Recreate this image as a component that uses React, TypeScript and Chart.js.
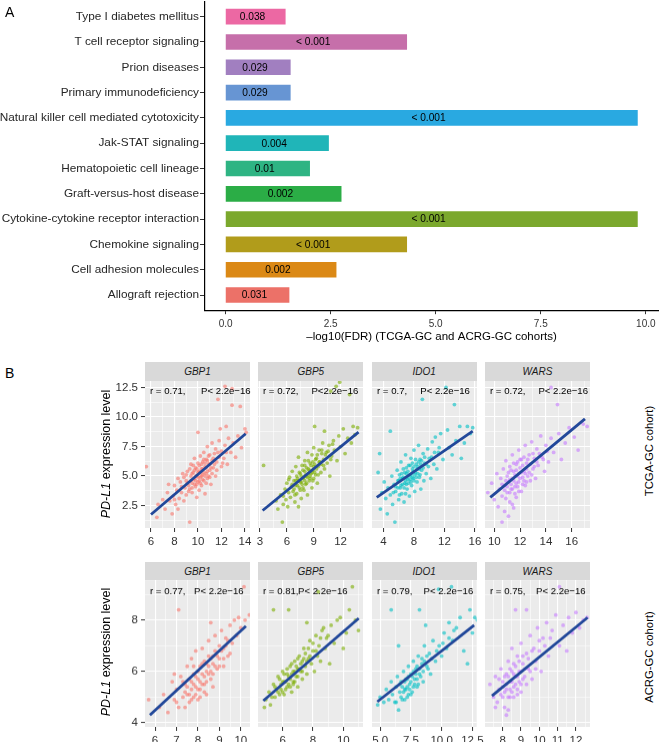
import React, { useEffect, useRef } from "react";
import { Chart, registerables } from "chart.js";

Chart.register(...registerables);

const FONT = "'Liberation Sans', Arial, Helvetica, sans-serif";
Chart.defaults.font.family = FONT;

// ---------------- Panel A data ----------------
const pathways = [
  "Type I diabetes mellitus",
  "T cell receptor signaling",
  "Prion diseases",
  "Primary immunodeficiency",
  "Natural killer cell mediated cytotoxicity",
  "Jak-STAT signaling",
  "Hematopoietic cell lineage",
  "Graft-versus-host disease",
  "Cytokine-cytokine receptor interaction",
  "Chemokine signaling",
  "Cell adhesion molecules",
  "Allograft rejection",
];
const negLogFdr = [1.42, 4.31, 1.54, 1.54, 9.8, 2.45, 2.0, 2.75, 9.8, 4.31, 2.63, 1.51];
const fdrLabels = ["0.038", "< 0.001", "0.029", "0.029", "< 0.001", "0.004", "0.01", "0.002", "< 0.001", "< 0.001", "0.002", "0.031"];
const barColors = ["#EC68A3", "#C66FAA", "#A17FC0", "#6795D3", "#29A9E1", "#20B5B8", "#2EB483", "#2BAD46", "#7BA82D", "#B19C1B", "#DB8916", "#EC7168"];
const xTicksA = [0, 2.5, 5, 7.5, 10];

// ---------------- Panel B data ----------------
const genes = ["GBP1", "GBP5", "IDO1", "WARS"];
const tcgaR = ["0.71", "0.72", "0.7", "0.72"];
const acrgR = ["0.77", "0.81", "0.79", "0.75"];
const pValueText = "2.2e\u221216";
const tcgaYTicks = [2.5, 5, 7.5, 10, 12.5];
const acrgYTicks = [4, 6, 8];
const tcgaXTicks = [[6, 8, 10, 12, 14], [3, 6, 9, 12], [4, 8, 12, 16], [10, 12, 14, 16]];
const acrgXTicks = [[6, 7, 8, 9, 10], [6, 8, 10], [5, 7.5, 10, 12.5], [8, 9, 10, 11, 12]];
const tcgaXRange = [[5.49, 14.43], [2.78, 14.5], [2.5, 16.26], [9.28, 17.42]];
const acrgXRange = [[5.53, 10.43], [4.38, 11.3], [4.34, 12.85], [7.03, 12.77]];
const tcgaYRange = [0.6, 13.05];
const acrgYRange = [3.84, 9.56];
const tcgaFit = [[[6.0, 1.74], [14.06, 8.58]], [[3.3, 2.08], [14.0, 8.72]], [[3.12, 3.2], [15.7, 8.8]], [[9.69, 3.2], [17.03, 9.84]]];
const acrgFit = [[[5.76, 4.3], [10.24, 7.77]], [[4.73, 4.86], [11.02, 8.07]], [[4.77, 4.82], [12.64, 7.8]], [[7.41, 5.05], [12.64, 8.1]]];

const tcgaGBP1 = [[5.6,5.8],[6.5,1.5],[6.6,2.6],[7.0,3.0],[7.2,2.2],[7.4,3.6],[7.6,2.9],[7.8,1.8],[7.9,3.3],[8.0,4.2],[8.1,2.6],[8.2,3.8],[8.3,4.8],[8.4,3.1],[8.5,4.5],[8.6,3.6],[8.7,5.2],[8.8,2.9],[8.9,4.0],[9.0,4.6],[9.0,3.4],[9.1,5.4],[9.2,4.2],[9.3,1.1],[9.3,3.9],[9.4,5.0],[9.4,6.0],[9.5,4.4],[9.5,3.6],[9.6,5.3],[9.7,4.8],[9.7,6.5],[9.8,4.1],[9.8,5.7],[9.9,3.2],[9.9,5.0],[10.0,8.7],[10.0,4.5],[10.0,6.1],[10.1,5.4],[10.1,3.8],[10.2,4.9],[10.2,6.7],[10.3,5.6],[10.3,4.2],[10.4,6.2],[10.4,5.1],[10.5,7.0],[10.5,4.6],[10.6,5.8],[10.6,3.5],[10.7,6.4],[10.7,5.2],[10.8,7.5],[10.8,4.8],[10.9,6.0],[11.0,5.5],[11.0,6.8],[11.1,4.3],[11.2,6.3],[11.2,7.8],[11.3,5.7],[11.4,6.9],[11.5,5.0],[11.5,7.3],[11.6,6.2],[11.7,11.5],[11.8,6.6],[11.8,8.0],[11.9,9.0],[12.0,5.8],[12.0,7.1],[12.2,6.5],[12.3,12.6],[12.3,7.6],[12.4,9.2],[12.5,6.0],[12.6,8.2],[12.8,7.0],[12.9,11.0],[12.9,12.4],[13.0,7.8],[13.2,6.6],[13.4,8.4],[13.6,10.9],[13.7,7.4],[14.0,9.0],[14.1,8.7],
  [8.6,4.1],[8.8,4.9],[9.0,5.1],[9.1,4.4],[9.2,3.7],[9.3,5.6],[9.4,4.6],[9.5,5.2],[9.5,4.0],[9.6,4.7],[9.6,5.9],[9.7,4.3],[9.7,5.5],[9.8,5.0],[9.8,4.6],[9.9,5.6],[9.9,4.3],[10.0,5.3],[10.0,4.9],[10.1,5.9],[10.1,4.6],[10.2,5.3],[10.2,4.4],[10.3,6.0],[10.3,5.0],[10.4,5.6],[10.4,4.7],[10.5,5.3],[10.5,6.4],[10.6,5.0],[10.6,6.1],[10.7,5.7],[10.7,4.4],[10.8,6.3],[10.8,5.4],[10.9,5.0],[10.9,6.7],[11.0,6.0],[11.0,4.9],[11.1,5.7],[11.2,5.2],[11.3,6.5],[11.4,6.0],[11.6,5.5],[11.7,7.0],[12.1,6.1],[12.4,7.0],[7.5,4.3],[8.0,3.0],[8.3,2.2]];
const tcgaGBP5 = [[3.4,5.9],[4.8,2.9],[5.0,2.2],[5.3,3.4],[5.5,1.1],[5.6,2.6],[5.8,3.9],[5.9,3.0],[6.0,4.4],[6.1,2.4],[6.2,3.6],[6.3,4.9],[6.4,3.2],[6.5,4.1],[6.6,5.4],[6.7,3.7],[6.8,4.6],[6.9,2.8],[7.0,4.2],[7.0,5.8],[7.1,3.5],[7.2,4.8],[7.3,6.6],[7.4,4.0],[7.5,5.2],[7.6,3.1],[7.6,4.5],[7.7,5.9],[7.8,4.8],[7.9,3.8],[8.0,5.4],[8.0,6.3],[8.1,4.3],[8.2,5.0],[8.3,7.0],[8.3,3.4],[8.4,5.6],[8.5,4.6],[8.6,6.1],[8.7,5.2],[8.8,4.0],[8.8,6.8],[8.9,5.5],[9.0,4.8],[9.0,7.4],[9.1,9.2],[9.1,6.0],[9.2,5.1],[9.3,6.5],[9.4,4.4],[9.5,5.8],[9.6,7.2],[9.7,6.2],[9.8,5.3],[9.9,6.9],[10.0,7.8],[10.1,6.4],[10.2,8.8],[10.2,5.6],[10.4,7.0],[10.5,6.1],[10.7,7.6],[10.8,5.0],[10.9,12.2],[11.0,6.7],[11.2,8.0],[11.3,7.2],[11.5,12.6],[11.6,6.3],[11.8,8.4],[11.9,12.95],[12.0,7.5],[12.3,9.0],[12.5,6.9],[12.8,8.2],[13.0,11.9],[13.2,7.8],[13.4,9.2],[13.6,8.5],[13.9,9.1],
  [6.6,4.3],[6.8,3.9],[7.0,4.6],[7.1,5.0],[7.2,4.2],[7.3,4.6],[7.4,5.3],[7.5,4.5],[7.5,3.8],[7.6,5.0],[7.7,4.3],[7.8,5.5],[7.8,4.0],[7.9,4.9],[8.0,4.6],[8.0,5.9],[8.1,5.1],[8.2,4.4],[8.2,5.7],[8.3,4.9],[8.4,5.2],[8.4,6.3],[8.5,5.5],[8.6,4.8],[8.6,5.0],[8.7,5.9],[8.8,5.3],[8.9,6.2],[8.9,4.6],[9.0,5.8],[9.1,5.3],[9.2,6.4],[9.3,5.6],[9.4,6.8],[9.5,5.1],[9.6,6.2],[9.8,6.0],[9.9,7.2],[10.1,5.9],[10.3,6.8],[10.6,7.1],[10.9,6.4],[11.1,7.7],[6.2,4.7],[5.6,3.3],[6.9,3.4],[7.3,2.4]];
const tcgaIDO1 = [[3.3,5.3],[3.5,6.9],[3.6,2.2],[3.8,3.6],[4.1,4.5],[4.3,3.1],[4.5,1.8],[4.6,4.0],[4.9,8.8],[4.9,3.4],[5.1,5.0],[5.2,2.6],[5.4,4.3],[5.5,1.1],[5.6,3.7],[5.8,5.5],[5.9,4.6],[6.0,3.0],[6.1,5.1],[6.2,4.0],[6.3,6.2],[6.4,3.5],[6.5,4.8],[6.6,5.6],[6.7,2.8],[6.8,4.4],[6.9,6.8],[7.0,5.2],[7.1,3.9],[7.2,4.7],[7.3,5.9],[7.4,3.3],[7.5,5.0],[7.6,6.5],[7.7,4.2],[7.8,5.6],[7.9,4.8],[8.0,7.2],[8.1,3.7],[8.2,5.3],[8.3,6.0],[8.4,4.5],[8.5,5.8],[8.6,7.6],[8.7,4.9],[8.8,6.4],[8.9,3.9],[9.0,5.5],[9.1,11.5],[9.2,6.9],[9.3,4.6],[9.4,6.1],[9.6,5.2],[9.8,7.3],[10.0,6.5],[10.2,4.8],[10.4,7.9],[10.6,6.0],[10.8,8.3],[11.0,5.6],[11.2,7.0],[11.5,8.6],[11.8,6.4],[12.2,12.5],[12.4,8.9],[12.6,7.4],[13.0,6.8],[13.3,11.05],[13.5,8.0],[14.0,9.2],[14.2,6.5],[14.6,7.8],[15.0,9.2],[15.4,8.6],[15.7,9.1],
  [5.6,4.1],[5.9,4.0],[6.0,4.6],[6.2,4.8],[6.3,4.2],[6.4,5.2],[6.5,4.3],[6.6,4.9],[6.7,4.0],[6.8,5.3],[6.9,4.6],[7.0,4.3],[7.0,5.7],[7.1,4.9],[7.2,5.4],[7.3,4.4],[7.4,5.1],[7.5,4.7],[7.5,5.9],[7.6,4.5],[7.7,5.2],[7.8,4.9],[7.8,6.1],[7.9,5.4],[8.0,4.6],[8.0,5.8],[8.1,5.1],[8.2,6.4],[8.3,4.9],[8.4,5.6],[8.5,5.2],[8.6,6.2],[8.7,5.6],[8.8,5.1],[8.9,6.0],[9.0,6.3],[9.2,5.7],[9.4,6.6],[9.6,6.0],[9.9,5.8],[10.3,6.6],[10.7,7.0],[11.3,7.4],[6.1,3.4],[5.3,3.6],[6.9,3.5]];
const tcgaWARS = [[9.5,3.6],[9.8,4.4],[10.0,3.0],[10.2,5.2],[10.3,2.4],[10.4,3.9],[10.5,4.8],[10.6,1.1],[10.6,3.3],[10.7,5.6],[10.8,2.0],[10.8,4.2],[10.9,6.3],[11.0,3.6],[11.0,5.0],[11.1,4.5],[11.2,2.8],[11.2,5.8],[11.3,3.9],[11.4,6.8],[11.4,4.8],[11.5,2.3],[11.5,5.4],[11.6,4.1],[11.7,6.0],[11.7,3.2],[11.8,5.0],[11.9,7.2],[11.9,4.5],[12.0,5.7],[12.1,3.7],[12.1,6.4],[12.2,4.9],[12.3,5.4],[12.4,7.6],[12.4,4.2],[12.5,6.1],[12.6,5.0],[12.7,6.8],[12.8,4.6],[12.9,7.9],[13.0,5.6],[13.1,6.5],[13.2,4.8],[13.3,7.3],[13.4,5.9],[13.6,8.4],[13.7,6.6],[13.9,5.4],[14.0,7.6],[14.2,6.2],[14.4,12.5],[14.4,8.2],[14.6,7.0],[14.9,11.05],[15.0,8.6],[15.2,6.4],[15.5,7.8],[15.8,9.1],[16.2,8.3],[16.5,7.2],[16.9,9.4],[17.2,9.2],
  [10.6,4.3],[10.8,3.8],[10.9,4.6],[11.0,4.1],[11.1,5.3],[11.2,3.6],[11.2,4.7],[11.3,4.3],[11.3,5.5],[11.4,3.9],[11.5,4.6],[11.5,6.1],[11.6,5.1],[11.6,3.5],[11.7,4.4],[11.7,5.5],[11.8,4.1],[11.8,6.2],[11.9,5.2],[11.9,3.7],[12.0,4.8],[12.0,6.4],[12.1,5.3],[12.2,4.3],[12.2,5.9],[12.3,4.6],[12.3,6.6],[12.4,5.2],[12.5,5.6],[12.5,4.5],[12.6,6.4],[12.7,5.3],[12.8,6.0],[12.9,5.1],[13.0,6.9],[13.1,5.8],[13.3,6.2],[13.5,6.9],[13.8,6.4],[14.1,7.1],[10.9,3.1],[11.4,2.6],[11.1,1.6]];

const acrgGBP1 = [[5.7,4.9],[6.2,4.6],[6.4,5.1],[6.6,4.4],[6.8,5.6],[6.9,4.9],[7.0,5.3],[7.1,8.4],[7.1,4.6],[7.2,5.8],[7.3,5.0],[7.4,4.6],[7.4,5.5],[7.5,6.2],[7.5,5.1],[7.6,4.8],[7.6,5.7],[7.7,5.3],[7.7,6.5],[7.8,5.0],[7.8,5.9],[7.9,5.4],[7.9,6.8],[8.0,5.7],[8.0,4.9],[8.1,6.2],[8.1,5.3],[8.2,5.9],[8.2,6.9],[8.3,5.5],[8.3,6.4],[8.4,5.1],[8.4,6.0],[8.5,6.6],[8.5,7.2],[8.6,5.7],[8.6,7.9],[8.7,6.3],[8.7,5.4],[8.8,6.8],[8.8,7.4],[8.9,6.1],[9.0,7.0],[9.0,6.5],[9.1,7.6],[9.2,6.2],[9.2,6.9],[9.3,7.3],[9.4,6.6],[9.5,7.8],[9.6,7.1],[9.7,8.0],[9.8,7.4],[9.9,8.1],[10.0,7.7],[10.15,9.3],[10.2,8.0],[10.4,8.2],
  [7.3,5.6],[7.4,5.2],[7.5,5.4],[7.6,5.1],[7.7,5.6],[7.7,4.9],[7.8,5.5],[7.8,6.2],[7.9,5.1],[7.9,5.8],[8.0,5.3],[8.0,6.0],[8.1,5.6],[8.1,5.0],[8.2,5.5],[8.2,6.3],[8.3,5.8],[8.3,5.2],[8.4,6.3],[8.4,5.6],[8.5,5.9],[8.5,6.2],[8.6,6.0],[8.6,6.5],[8.7,6.6],[8.7,5.9],[8.8,6.2],[8.9,6.6],[9.0,6.2],[9.1,6.8],[9.2,6.5],[9.3,7.0],[9.4,7.2],[9.5,6.7],[7.0,4.8],[6.9,5.9]];
const acrgGBP5 = [[4.8,4.6],[4.9,4.9],[5.1,5.2],[5.2,4.7],[5.4,8.4],[5.4,5.5],[5.5,5.0],[5.6,5.3],[5.7,5.8],[5.8,5.1],[5.9,5.5],[6.0,5.2],[6.0,6.0],[6.1,5.6],[6.2,5.3],[6.3,5.9],[6.4,8.4],[6.4,5.5],[6.5,6.2],[6.5,5.7],[6.6,5.2],[6.7,6.0],[6.7,5.6],[6.8,6.4],[6.9,5.8],[7.0,6.1],[7.0,5.4],[7.1,6.6],[7.2,6.0],[7.3,5.7],[7.3,6.4],[7.4,6.9],[7.5,6.2],[7.6,7.9],[7.6,5.9],[7.7,6.5],[7.8,7.2],[7.9,6.3],[8.0,6.8],[8.1,6.0],[8.2,7.4],[8.3,6.6],[8.35,9.1],[8.4,7.0],[8.5,6.4],[8.6,7.6],[8.8,6.9],[8.9,7.3],[9.1,6.3],[9.2,7.8],[9.4,7.1],[9.6,8.0],[9.8,8.1],[10.0,6.9],[10.2,7.5],[10.4,8.4],[10.6,9.3],[10.8,8.0],[11.0,7.6],
  [5.5,5.4],[5.7,5.2],[5.8,5.7],[5.9,5.3],[6.0,5.6],[6.1,5.1],[6.1,5.9],[6.2,5.6],[6.3,5.4],[6.3,6.1],[6.4,5.8],[6.5,5.4],[6.6,5.9],[6.6,6.3],[6.7,5.5],[6.8,6.0],[6.8,5.6],[6.9,6.2],[7.0,5.8],[7.0,6.5],[7.1,6.1],[7.2,6.3],[7.3,6.0],[7.4,6.5],[7.5,6.7],[7.6,6.4],[7.7,6.9],[7.8,6.6],[8.0,7.1],[8.2,6.8],[8.5,7.3],[8.7,7.7],[9.0,7.4],[5.3,5.0]];
const acrgIDO1 = [[4.8,4.7],[5.0,5.0],[5.3,4.8],[5.5,5.3],[5.7,4.9],[5.9,8.4],[5.9,5.6],[6.0,5.1],[6.2,4.8],[6.3,5.4],[6.4,5.8],[6.5,4.5],[6.5,7.0],[6.6,5.2],[6.7,5.6],[6.8,4.9],[6.9,6.0],[7.0,5.3],[7.1,5.7],[7.2,5.0],[7.3,6.2],[7.4,5.5],[7.5,5.9],[7.6,5.2],[7.7,6.4],[7.8,5.7],[7.9,6.1],[8.0,5.4],[8.1,6.6],[8.2,8.4],[8.2,5.9],[8.4,6.3],[8.5,5.6],[8.6,7.0],[8.7,7.8],[8.8,6.2],[9.0,6.7],[9.1,5.9],[9.3,7.2],[9.5,6.4],[9.75,9.2],[9.8,7.0],[10.0,6.6],[10.2,7.5],[10.4,6.9],[10.6,7.9],[10.8,9.3],[10.9,7.2],[11.2,7.7],[11.5,8.1],[11.8,6.8],[12.1,6.3],[12.3,8.4],[12.5,7.5],[12.7,8.1],[12.9,8.0],
  [6.6,5.5],[6.7,5.0],[6.8,5.4],[6.9,5.2],[7.0,5.6],[7.0,4.9],[7.1,5.3],[7.2,5.7],[7.2,5.4],[7.3,5.1],[7.3,5.8],[7.4,5.3],[7.5,5.6],[7.5,5.1],[7.6,5.8],[7.7,5.4],[7.7,6.0],[7.8,5.5],[7.9,5.9],[8.0,5.7],[8.0,6.2],[8.1,5.5],[8.2,6.1],[8.3,5.8],[8.4,6.5],[8.5,6.0],[8.6,6.4],[8.8,6.6],[8.9,6.1],[9.2,6.5],[9.6,6.8],[10.1,7.1],[10.6,7.3],[11.0,7.6],[6.3,4.8]];
const acrgWARS = [[7.3,5.5],[7.5,5.0],[7.6,5.8],[7.7,4.8],[7.8,5.3],[7.9,6.1],[8.0,5.0],[8.0,5.6],[8.1,4.6],[8.2,5.9],[8.2,5.3],[8.3,4.5],[8.3,6.4],[8.4,5.6],[8.4,5.0],[8.5,6.0],[8.5,6.9],[8.6,5.4],[8.6,6.3],[8.7,8.4],[8.7,5.8],[8.8,5.1],[8.8,6.6],[8.9,6.0],[9.0,5.5],[9.0,7.1],[9.1,6.3],[9.2,5.8],[9.3,8.4],[9.3,6.7],[9.4,6.1],[9.5,7.4],[9.6,5.7],[9.7,6.9],[9.8,6.4],[9.9,7.7],[10.0,6.8],[10.1,6.0],[10.2,7.3],[10.4,7.9],[10.5,6.6],[10.7,7.6],[10.9,8.2],[11.1,9.3],[11.1,7.0],[11.3,7.8],[11.5,6.8],[11.6,8.1],[11.8,7.5],[12.0,8.3],[12.2,7.7],[12.4,8.0],[12.6,8.1],
  [7.8,5.7],[7.9,5.1],[8.0,5.4],[8.1,5.8],[8.1,5.2],[8.2,5.5],[8.3,5.0],[8.3,5.8],[8.4,5.3],[8.4,6.1],[8.5,5.6],[8.5,5.2],[8.6,5.9],[8.6,5.0],[8.7,5.5],[8.7,6.2],[8.8,5.8],[8.8,5.3],[8.9,6.4],[8.9,5.6],[9.0,6.0],[9.0,5.2],[9.1,5.7],[9.1,6.6],[9.2,6.1],[9.3,5.5],[9.4,6.5],[9.5,6.0],[9.6,6.8],[9.8,6.1],[10.0,7.2],[10.3,7.0],[10.6,7.3],[7.6,4.6],[8.2,4.3]];

// ---------------- styling ----------------
const pointColors = ["rgba(248,118,109,0.6)", "rgba(124,174,0,0.6)", "rgba(0,191,196,0.6)", "rgba(199,124,255,0.6)"];
const fitColor = "#22489A";
const colLefts = [145, 258.3, 371.7, 485];
const panelW = 105;
const TOPPAD = 12;

const rows = [
  {
    top: 381, h: 147, stripTop: 362, yRange: tcgaYRange, yTicks: tcgaYTicks, xTicks: tcgaXTicks, xRange: tcgaXRange,
    fits: tcgaFit, r: tcgaR, data: [tcgaGBP1, tcgaGBP5, tcgaIDO1, tcgaWARS],
    pOff: [51, 48.4, 43.3, 48.4], pPrefix: ["P< ", "P<", "P< ", "P< "], annDy: 10.7,
  },
  {
    top: 580, h: 146.7, stripTop: 562, yRange: acrgYRange, yTicks: acrgYTicks, xTicks: acrgXTicks, xRange: acrgXRange,
    fits: acrgFit, r: acrgR, data: [acrgGBP1, acrgGBP5, acrgIDO1, acrgWARS],
    pOff: [44, 35, 46.6, 46], pPrefix: ["P< ", "P< ", "P< ", "P< "], annDy: 11.7,
  },
];

function withMinor(major: number[], min: number, max: number) {
  const step = major[1] - major[0];
  const out: any[] = [];
  for (let k = -1; ; k++) {
    const v = major[0] + (k * step) / 2;
    if (v > max + 1e-9) break;
    if (v < min) continue;
    const isMajor = major.some((m) => Math.abs(m - v) < 1e-6);
    out.push({ value: v, major: isMajor });
  }
  return out;
}

function fmt(v: number, list: number[]) {
  const dec = list.some((t) => Math.abs(t - Math.round(t)) > 1e-9);
  return dec ? v.toFixed(1) : String(v);
}

// ---------------- Panel A ----------------
const A_TOP = -12;
const A_H = 357;
function BarPanel() {
  const ref = useRef<HTMLCanvasElement>(null);
  useEffect(() => {
    const n = pathways.length;
    const labelPlugin = {
      id: "barLabels",
      afterDatasetsDraw(chart: any) {
        const ctx = chart.ctx;
        const xs = chart.scales.x;
        const ys = chart.scales.y;
        ctx.save();
        ctx.font = `10.2px ${FONT}`;
        ctx.fillStyle = "#000";
        ctx.textAlign = "center";
        ctx.textBaseline = "middle";
        pathways.forEach((_, i) => {
          ctx.fillText(fdrLabels[i], xs.getPixelForValue(negLogFdr[i] / 2 - 0.07), ys.getPixelForValue(n - i) + 0.5);
        });
        ctx.restore();
      },
    };
    const chart = new Chart(ref.current as any, {
      type: "bar",
      data: {
        datasets: [
          {
            data: pathways.map((_, i) => ({ x: negLogFdr[i], y: n - i })),
            backgroundColor: barColors,
            borderWidth: 0,
            barThickness: 15,
          } as any,
        ],
      },
      options: {
        responsive: false,
        animation: false,
        events: [],
        indexAxis: "y",
        layout: { autoPadding: false, padding: { top: 1.5 - A_TOP, right: 4, left: 0, bottom: 0 } } as any,
        plugins: { legend: { display: false }, tooltip: { enabled: false } },
        scales: {
          x: {
            type: "linear",
            min: -0.49,
            max: 10.29,
            afterBuildTicks: (s: any) => {
              s.ticks = xTicksA.map((v) => ({ value: v }));
            },
            ticks: {
              callback: (v: any) => Number(v).toFixed(1),
              font: { size: 10 },
              color: "#333",
              padding: 4,
              autoSkip: false,
              maxRotation: 0,
            },
            grid: { display: true, drawOnChartArea: false, tickLength: 4, tickColor: "#333", tickWidth: 1, offset: false },
            border: { display: true, color: "#000", width: 1.2 },
            title: {
              display: true,
              text: "\u2013log10(FDR) (TCGA-GC and ACRG-GC cohorts)",
              font: { size: 11.5 },
              color: "#000",
              padding: { top: 0, bottom: 1.5 },
            },
            afterFit: (s: any) => {
              s.height = A_H - (310.2 - A_TOP);
            },
          },
          y: {
            type: "linear",
            min: 0.4,
            max: n + 0.6,
            offset: false,
            afterBuildTicks: (s: any) => {
              s.ticks = pathways.map((_, i) => ({ value: n - i }));
            },
            ticks: {
              callback: (v: any) => pathways[n - Number(v)],
              font: { size: 11.8 },
              color: "#262626",
              padding: 1,
              autoSkip: false,
            },
            grid: { display: true, drawOnChartArea: false, tickLength: 5, tickColor: "#333", tickWidth: 1, offset: false },
            border: { display: true, color: "#000", width: 1.2 },
            afterFit: (s: any) => {
              s.width = 205;
            },
          },
        } as any,
      },
      plugins: [labelPlugin],
    });
    return () => chart.destroy();
  }, []);
  return <canvas ref={ref} width={662} height={A_H} style={{ position: "absolute", left: 0, top: A_TOP, width: 662, height: A_H }} />;
}

// ---------------- Panel B ----------------
function ScatterPanel(props: any) {
  const { row, col } = props;
  const R = rows[row];
  const ref = useRef<HTMLCanvasElement>(null);
  const showY = col === 0;
  const padL = showY ? 45 : 10;
  const padR = 10;
  const axH = 22;
  const left = colLefts[col];
  const cw = padL + panelW + padR;
  const ch = TOPPAD + R.h + axH;
  useEffect(() => {
    const xr = R.xRange[col];
    const xMajor = R.xTicks[col];
    const pts = R.data[col];
    const fit = R.fits[col];
    const bgPlugin = {
      id: "panelBg",
      beforeDraw(chart: any) {
        const { ctx, chartArea: a } = chart;
        ctx.save();
        ctx.fillStyle = "#EBEBEB";
        ctx.fillRect(a.left, a.top, a.right - a.left, a.bottom - a.top);
        ctx.restore();
      },
      afterDatasetsDraw(chart: any) {
        const { ctx, chartArea: a } = chart;
        ctx.save();
        ctx.font = `9.6px ${FONT}`;
        ctx.fillStyle = "#000";
        ctx.textAlign = "left";
        ctx.textBaseline = "middle";
        const y = a.top + R.annDy;
        ctx.fillText(`r = ${R.r[col]},`, a.left + 5, y);
        ctx.fillText(`${R.pPrefix[col]}${pValueText}`, a.left + 5 + R.pOff[col], y);
        ctx.restore();
      },
    };
    const gridCommon = {
      display: true,
      color: "#FFFFFF",
      lineWidth: (c: any) => (c.tick && c.tick.major ? 1.1 : 0.55),
      tickColor: (c: any) => (c.tick && c.tick.major ? "#333" : "rgba(0,0,0,0)"),
      tickWidth: 1,
      tickLength: 4,
      offset: false,
    };
    const chart = new Chart(ref.current as any, {
      type: "scatter",
      data: {
        datasets: [
          {
            data: fit.map((p: number[]) => ({ x: p[0], y: p[1] })),
            showLine: true,
            borderColor: fitColor,
            borderWidth: 2.8,
            pointRadius: 0,
            fill: false,
          } as any,
          {
            data: pts.map((p: number[]) => ({ x: p[0], y: p[1] })),
            backgroundColor: pointColors[col],
            borderWidth: 0,
            pointRadius: 1.9,
          } as any,
        ],
      },
      options: {
        responsive: false,
        animation: false,
        events: [],
        layout: { autoPadding: false, padding: { top: TOPPAD, bottom: 0, left: showY ? 0 : padL, right: padR } } as any,
        plugins: { legend: { display: false }, tooltip: { enabled: false } },
        scales: {
          x: {
            type: "linear",
            min: xr[0],
            max: xr[1],
            afterBuildTicks: (s: any) => {
              s.ticks = withMinor(xMajor, xr[0], xr[1]);
            },
            ticks: {
              callback: (v: any, i: number, t: any[]) => (t[i] && t[i].major ? fmt(Number(v), xMajor) : ""),
              font: { size: 11.5 },
              color: "#333",
              padding: 3,
              autoSkip: false,
              maxRotation: 0,
              minRotation: 0,
            },
            grid: { ...gridCommon, drawTicks: true },
            border: { display: false },
            afterFit: (s: any) => {
              s.height = axH;
            },
          },
          y: {
            type: "linear",
            min: R.yRange[0],
            max: R.yRange[1],
            afterBuildTicks: (s: any) => {
              s.ticks = withMinor(R.yTicks, R.yRange[0], R.yRange[1]);
            },
            ticks: {
              display: showY,
              callback: (v: any, i: number, t: any[]) => (t[i] && t[i].major ? fmt(Number(v), R.yTicks) : ""),
              font: { size: 11.5 },
              color: "#333",
              padding: 3,
              autoSkip: false,
            },
            grid: { ...gridCommon, drawTicks: showY },
            border: { display: false },
            afterFit: (s: any) => {
              s.width = showY ? padL : 0;
            },
          },
        } as any,
      },
      plugins: [bgPlugin],
    });
    return () => chart.destroy();
  }, []);
  return (
    <>
      <div
        style={{
          position: "absolute",
          left,
          top: R.stripTop,
          width: panelW,
          height: R.top - R.stripTop,
          background: "#D9D9D9",
          display: "flex",
          alignItems: "center",
          justifyContent: "center",
          fontFamily: FONT,
          fontStyle: "italic",
          fontSize: 10,
          color: "#1A1A1A",
        }}
      >
        {genes[col]}
      </div>
      <canvas ref={ref} width={cw} height={ch} style={{ position: "absolute", left: left - padL, top: R.top - TOPPAD, width: cw, height: ch }} />
    </>
  );
}

function RotText(props: any) {
  const { cx, cy, size, children } = props;
  return (
    <div
      style={{
        position: "absolute",
        left: cx,
        top: cy,
        transform: "translate(-50%, -50%) rotate(-90deg)",
        whiteSpace: "nowrap",
        fontFamily: FONT,
        fontSize: size,
        lineHeight: 1,
        color: "#000",
      }}
    >
      {children}
    </div>
  );
}

export default function App() {
  return (
    <div style={{ position: "absolute", left: 0, top: 0, width: 662, height: 742, background: "#fff", overflow: "hidden" }}>
      <BarPanel />
      <div style={{ position: "absolute", left: 5, top: 5, fontFamily: FONT, fontSize: 14, lineHeight: 1 }}>A</div>
      <div style={{ position: "absolute", left: 5, top: 366, fontFamily: FONT, fontSize: 14, lineHeight: 1 }}>B</div>
      {rows.map((_, ri) => genes.map((_, ci) => <ScatterPanel key={`${ri}-${ci}`} row={ri} col={ci} />))}
      <RotText cx={106} cy={454} size={12.5}>
        <i>PD-L1</i> expression level
      </RotText>
      <RotText cx={106} cy={652} size={12.5}>
        <i>PD-L1</i> expression level
      </RotText>
      <RotText cx={650} cy={451} size={11.3}>
        TCGA-GC cohort)
      </RotText>
      <RotText cx={650} cy={657} size={11.3}>
        ACRG-GC cohort)
      </RotText>
    </div>
  );
}
